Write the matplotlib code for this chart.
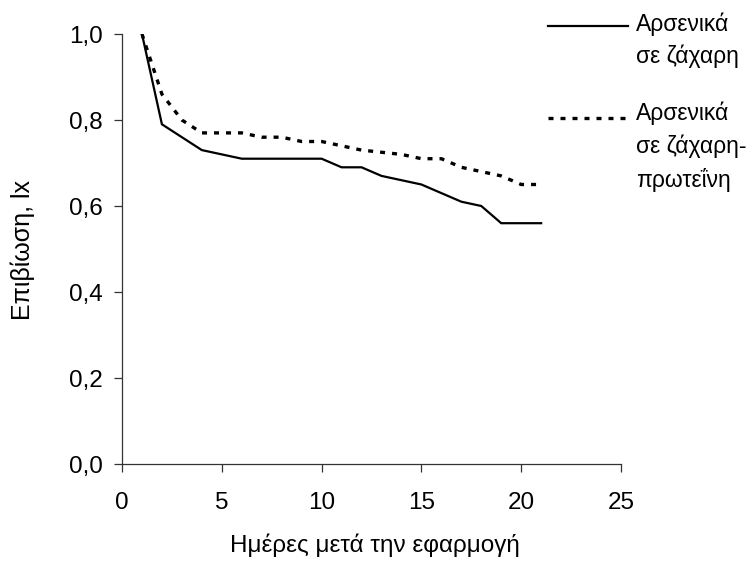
import matplotlib
matplotlib.use("Agg")
import matplotlib.pyplot as plt
from matplotlib.lines import Line2D
from matplotlib.ticker import FuncFormatter

plt.rcParams['font.family'] = ['Liberation Sans', 'DejaVu Sans']

days = list(range(1, 22))
sugar = [1.00, 0.79, 0.76, 0.73, 0.72, 0.71, 0.71, 0.71, 0.71, 0.71, 0.69,
         0.69, 0.67, 0.66, 0.65, 0.63, 0.61, 0.60, 0.56, 0.56, 0.56]
sugar_protein = [1.00, 0.86, 0.80, 0.77, 0.77, 0.77, 0.76, 0.76, 0.75, 0.75, 0.74,
                 0.73, 0.725, 0.72, 0.71, 0.71, 0.69, 0.68, 0.67, 0.65, 0.65]
label_sugar = "Αρσενικά\nσε ζάχαρη"
label_sugar_protein = "Αρσενικά\nσε ζάχαρη-\nπρωτεΐνη"
xlabel = "Ημέρες μετά την εφαρμογή"
ylabel = "Επιβίωση, lx"

W, H = 755, 563
fig = plt.figure(figsize=(W / 100, H / 100), dpi=100)
ax = fig.add_axes([122 / W, 1 - 464 / H, (621 - 122) / W, (464 - 34) / H])

ax.plot(days, sugar, color='black', lw=1.6, solid_joinstyle='miter')
dash = (0, (1.5, 2.1))
ax.plot(days, sugar_protein, color='black', lw=2.4, linestyle=dash)

ax.set_xlim(0, 25)
ax.set_ylim(0, 1.0)
ax.set_xticks([0, 5, 10, 15, 20, 25])
ax.set_yticks([0, 0.2, 0.4, 0.6, 0.8, 1.0])
ax.yaxis.set_major_formatter(FuncFormatter(lambda v, p: f"{v:.1f}".replace('.', ',')))
for s in ['top', 'right']:
    ax.spines[s].set_visible(False)
for s in ['left', 'bottom']:
    ax.spines[s].set_linewidth(0.9)
    ax.spines[s].set_color('#333333')
ax.tick_params(direction='out', length=5.5, width=0.9, color='#333333',
               labelsize=17.5)
ax.tick_params(axis='y', pad=8.5)
ax.tick_params(axis='x', pad=14.5)

fig.text(375 / W, 1 - 545 / H, xlabel, fontsize=17.5, ha='center', va='center')
fig.text(22.5 / W, 1 - 250 / H, ylabel, fontsize=18, ha='center', va='center',
         rotation=90)

# legend
fig.add_artist(Line2D([548 / W, 628 / W], [1 - 26 / H, 1 - 26 / H],
                      color='black', lw=1.6, transform=fig.transFigure))
fig.add_artist(Line2D([548 / W, 628 / W], [1 - 118 / H, 1 - 118 / H],
                      color='black', lw=2.4, linestyle=dash, transform=fig.transFigure))
fig.text(636 / W, 1 - 12 / H, label_sugar, fontsize=16.5, va='top', ha='left',
         linespacing=1.5)
fig.text(636 / W, 1 - 102 / H, label_sugar_protein, fontsize=16.5, va='top', ha='left',
         linespacing=1.5)

fig.savefig("out.png", dpi=100)
